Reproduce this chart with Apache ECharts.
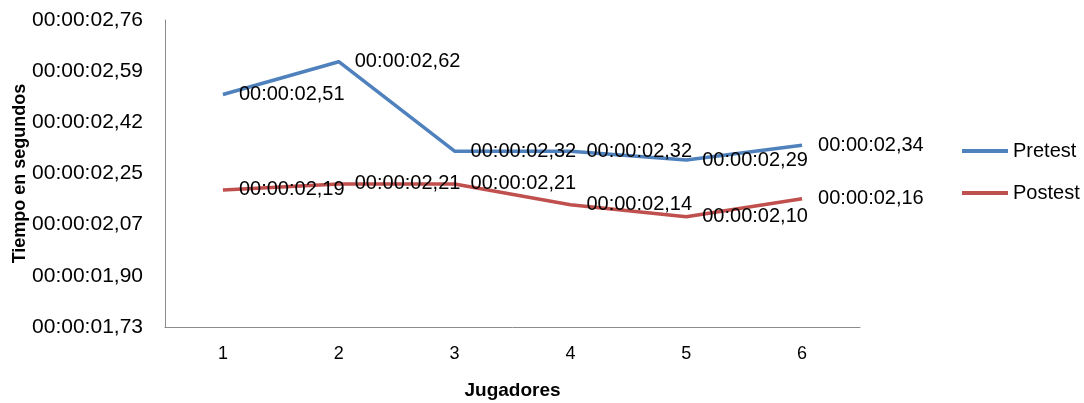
<!DOCTYPE html>
<html>
<head>
<meta charset="utf-8">
<script src="https://cdn.jsdelivr.net/npm/echarts@6/dist/echarts.min.js"></script>
<style>html,body{margin:0;padding:0;background:#fff}#c{width:1084px;height:403px}</style>
</head>
<body>
<div id="c"></div>
<script>
const categories = ['1', '2', '3', '4', '5', '6'];
const pretest = [2.51, 2.62, 2.32, 2.32, 2.29, 2.34];
const postest = [2.19, 2.21, 2.21, 2.14, 2.10, 2.16];
const yTickValues = [1.73, 1.9017, 2.0733, 2.245, 2.4167, 2.5883, 2.76];
const yTickLabels = ['00:00:01,73', '00:00:01,90', '00:00:02,07', '00:00:02,25', '00:00:02,42', '00:00:02,59', '00:00:02,76'];

const FONT = '"Liberation Sans", Arial, sans-serif';
const fmt = v => '00:00:0' + v.toFixed(2).replace('.', ',');

const chart = echarts.init(document.getElementById('c'), null, {renderer: 'canvas'});
const labelStyle = {
  show: true, position: 'right', distance: 16, offset: [0, 2],
  formatter: p => fmt(p.value),
  fontFamily: FONT, fontSize: 20, color: '#000'
};
chart.setOption({
  animation: false,
  grid: {left: 165, right: 224, top: 20, bottom: 76, containLabel: false, outerBoundsMode: 'none'},
  legend: {
    orient: 'vertical', left: 962, top: 141, itemGap: 22, padding: 0,
    itemWidth: 46, itemHeight: 4, icon: 'rect',
    textStyle: {fontFamily: FONT, fontSize: 20, color: '#000'},
    data: ['Pretest', 'Postest']
  },
  xAxis: {
    type: 'category', data: categories, boundaryGap: true,
    name: 'Jugadores', nameLocation: 'middle', nameGap: 54, nameMoveOverlap: false,
    nameTextStyle: {fontFamily: FONT, fontSize: 19, fontWeight: 'bold', color: '#000'},
    axisLine: {lineStyle: {color: '#8c8c8c', width: 1}},
    axisTick: {show: false},
    axisLabel: {margin: 18, fontFamily: FONT, fontSize: 18, color: '#000'},
    splitLine: {show: false}
  },
  yAxis: {
    type: 'value', min: 1.73, max: 2.76,
    name: 'Tiempo en segundos', nameLocation: 'middle', nameGap: 136, nameMoveOverlap: false,
    nameTextStyle: {fontFamily: FONT, fontSize: 18, fontWeight: 'bold', color: '#000'},
    axisLine: {show: true, lineStyle: {color: '#8c8c8c', width: 1}},
    axisTick: {show: false},
    axisLabel: {
      margin: 22, fontFamily: FONT, fontSize: 21, color: '#000',
      customValues: yTickValues,
      formatter: v => {
        let best = 0;
        yTickValues.forEach((t, i) => { if (Math.abs(t - v) < Math.abs(yTickValues[best] - v)) best = i; });
        return yTickLabels[best];
      }
    },
    splitLine: {show: false}
  },
  series: [
    {name: 'Pretest', type: 'line', data: pretest, symbol: 'circle', symbolSize: 0, showSymbol: true,
     lineStyle: {color: '#4F81BD', width: 3.5}, itemStyle: {color: '#4F81BD'}, label: labelStyle,
     labelLayout: {hideOverlap: false}},
    {name: 'Postest', type: 'line', data: postest, symbol: 'circle', symbolSize: 0, showSymbol: true,
     lineStyle: {color: '#C0504D', width: 3.5}, itemStyle: {color: '#C0504D'}, label: labelStyle,
     labelLayout: {hideOverlap: false}}
  ]
});
</script>
</body>
</html>
